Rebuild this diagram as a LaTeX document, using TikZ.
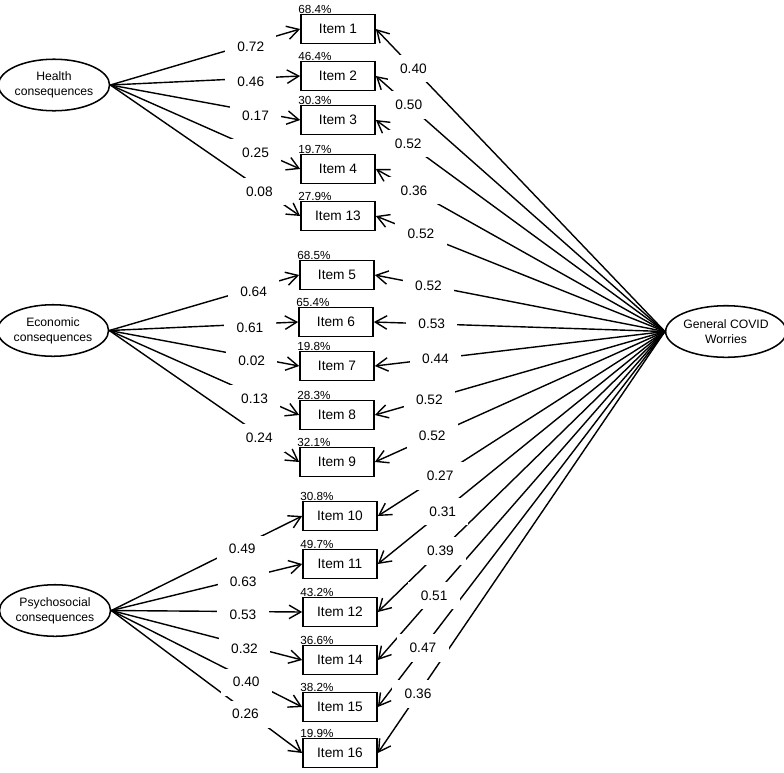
\documentclass[tikz,border=0pt]{standalone}
\usepackage{fontspec}
\setmainfont{Liberation Sans}
\usetikzlibrary{arrows.meta,calc,shapes.geometric}
\pgfdeclarelayer{labels}
\pgfsetlayers{main,labels}
\tikzset{
  item/.style={draw,line width=1.6pt,minimum width=63pt,minimum height=24.7pt,inner sep=0pt,font=\fontsize{11.7}{13}\selectfont},
  latent/.style={draw,ellipse,line width=1.3pt,minimum width=85pt,minimum height=44pt,inner sep=0pt,align=center,font=\fontsize{10.4}{12.8}\selectfont},
  load/.style={-{Straight Barb[length=10pt,width=11.5pt,line width=1.2pt]},line width=1.2pt},
  coef/.style={fill=white,inner xsep=10.5pt,inner ysep=7.5pt,font=\fontsize{11.7}{13}\selectfont},
  pct/.style={anchor=base west,inner sep=0pt,font=\fontsize{10}{12}\selectfont}
}
\begin{document}
\begin{tikzpicture}[x=0.03cm,y=-0.03cm]
  \useasboundingbox (0,0) rectangle (784,772);
  % factors
  \node[latent] (hea) at (54,85) {Health\\consequences};
  \node[latent] (eco) at (53,330.5) {Economic\\consequences};
  \node[latent] (psy) at (55,610.5) {Psychosocial\\consequences};
  \node[latent] (gen) at (726,331.5) {General COVID\\Worries};
  % items: number/x/y/explained variance
  \foreach \n/\x/\y/\p in {1/338/29/68.4, 2/338/76/46.4, 3/338/120/30.3, 4/338/169/19.7, 13/338/216/27.9,
      5/337/275/68.5, 6/336/322/65.4, 7/337/366/19.8, 8/337/415/28.3, 9/337/462/32.1,
      10/340/516/30.8, 11/340/564/49.7, 12/340/612/43.2, 14/340/660/36.6, 15/340/707/38.2, 16/340/753/19.9}{
    \node[item] (i\n) at (\x,\y) {Item \n};
    \node[pct] (p\n) at ($(i\n.north west)+(-2,0)$) {\p\%};
  }
  % specific loadings
  \foreach \f/\n/\t/\c in {hea/1/0.74/0.72, hea/2/0.74/0.46, hea/3/0.765/0.17, hea/4/0.765/0.25, hea/13/0.785/0.08,
      eco/5/0.76/0.64, eco/6/0.745/0.61, eco/7/0.75/0.02, eco/8/0.765/0.13, eco/9/0.79/0.24,
      psy/10/0.686/0.49, psy/11/0.691/0.63, psy/12/0.690/0.53, psy/14/0.698/0.32, psy/15/0.707/0.40, psy/16/0.703/0.26}{
    \draw[load] (\f.east) -- (i\n.west) coordinate[pos=\t] (a\n);
    \begin{pgfonlayer}{labels}
      \node[coef,yshift=-3pt] (ca\n) at (a\n) {\c};
    \end{pgfonlayer}
  }
  % general loadings
  \foreach \n/\t/\c in {1/0.870/0.40, 2/0.886/0.50, 3/0.888/0.52, 4/0.868/0.36, 13/0.844/0.52,
      5/0.815/0.52, 6/0.801/0.53, 7/0.791/0.44, 8/0.812/0.52, 9/0.802/0.52,
      10/0.783/0.27, 11/0.774/0.31, 12/0.782/0.39, 14/0.804/0.51, 15/0.843/0.47, 16/0.860/0.36}{
    \draw[load] (gen.west) -- (i\n.east) coordinate[pos=\t] (b\n);
    \begin{pgfonlayer}{labels}
      \node[coef] (cb\n) at (b\n) {\c};
    \end{pgfonlayer}
  }
\end{tikzpicture}
\end{document}
